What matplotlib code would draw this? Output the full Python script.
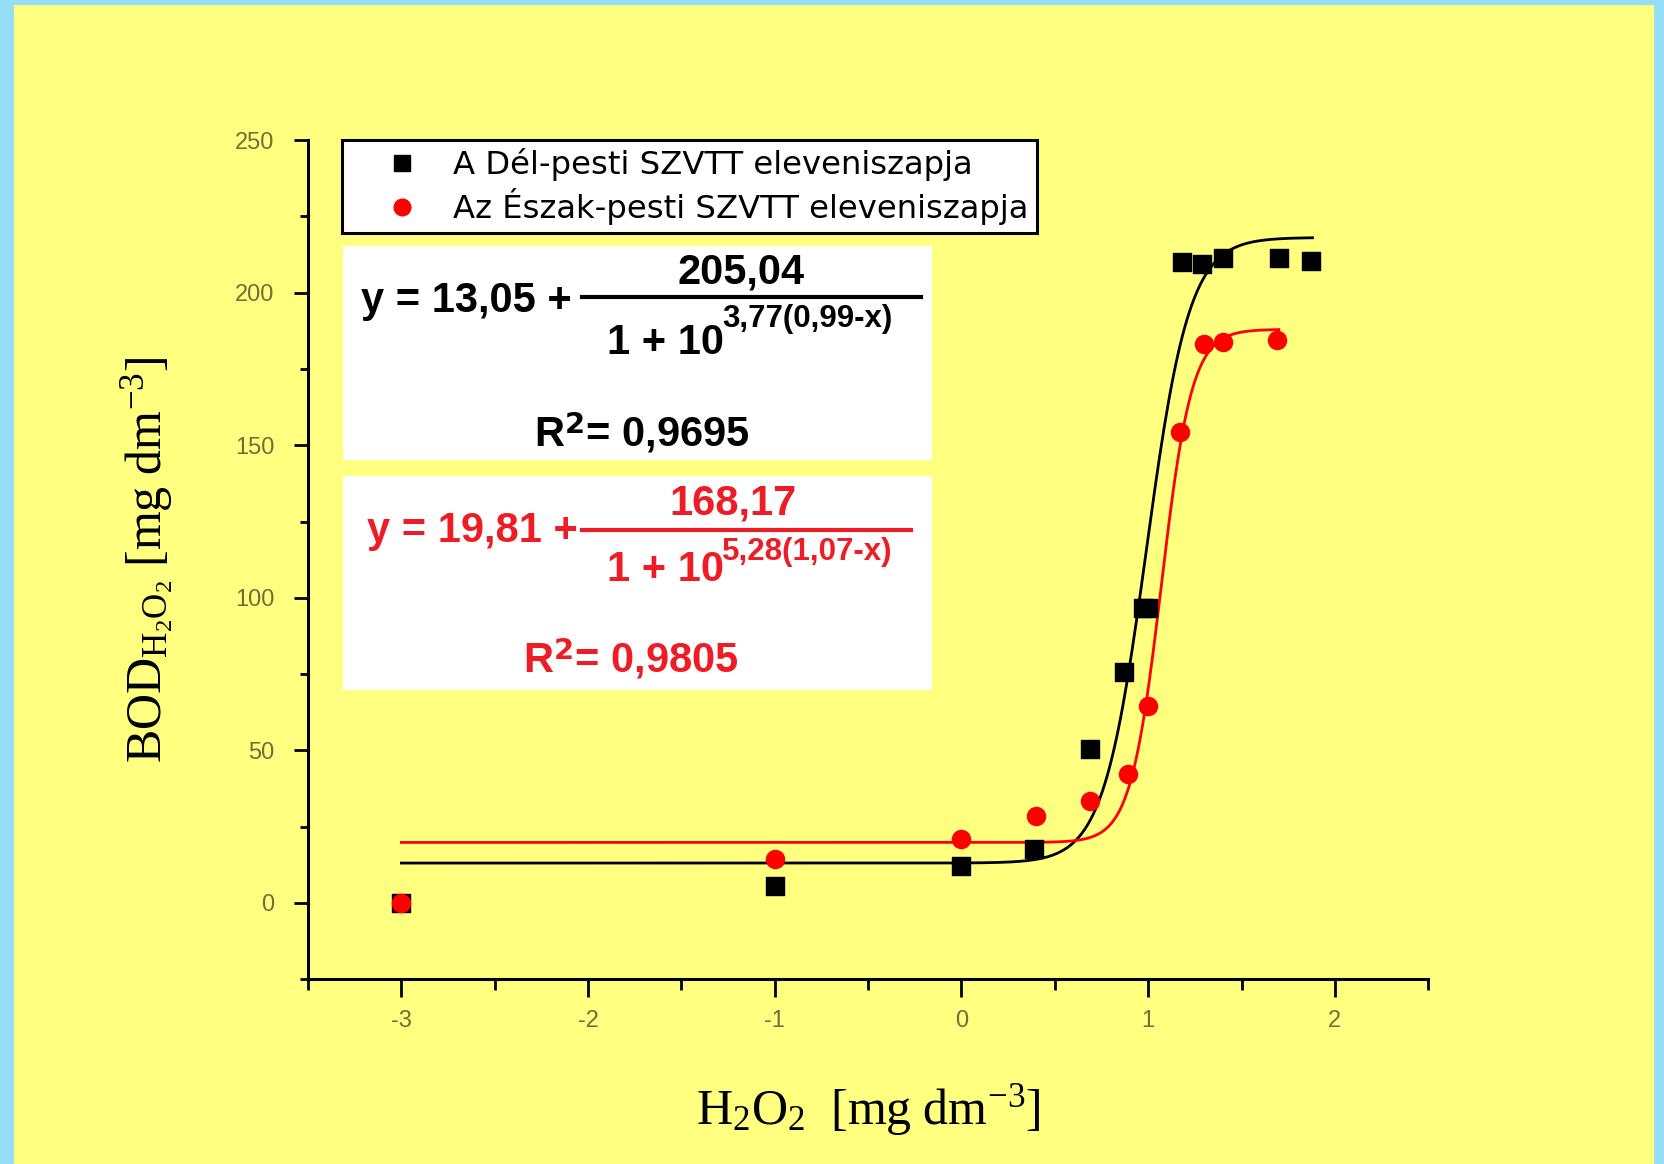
import numpy as np
import matplotlib
matplotlib.use('Agg')
import matplotlib.pyplot as plt
from matplotlib.patches import Rectangle
from matplotlib.lines import Line2D

# log10 of H2O2 concentration vs BOD
del_x = [-3, -1, 0, 0.39, 0.69, 0.87, 0.97, 1.0, 1.18, 1.29, 1.40, 1.70, 1.87]
del_y = [0, 5.6, 12.2, 17.8, 50.6, 75.8, 96.5, 96.5, 210, 209.5, 211.5, 211.5, 210.5]
eszak_x = [-3, -1, 0, 0.40, 0.69, 0.89, 1.0, 1.17, 1.30, 1.40, 1.69]
eszak_y = [0, 14.3, 21, 28.6, 33.5, 42.2, 64.6, 154.3, 183.3, 183.7, 184.4]

# fit params as printed in the chart: base, amplitude, slope, centre
del_fit = (13.05, 205.04, 3.77, 0.99)
eszak_fit = (19.81, 168.17, 5.28, 1.07)

labels = ['A Dél-pesti SZVTT eleveniszapja', 'Az Észak-pesti SZVTT eleveniszapja']
xticks = [-3, -2, -1, 0, 1, 2]
yticks = [0, 50, 100, 150, 200, 250]

YELLOW = '#ffff80'
BLUE = '#94dff7'
RED = '#ff0000'
TXTRED = '#ee1c24'


def logistic(x, p):
    a, b, k, x0 = p
    return a + b / (1 + 10 ** (k * (x0 - x)))


plt.rcParams['mathtext.fontset'] = 'custom'
plt.rcParams['mathtext.rm'] = 'Liberation Serif'
plt.rcParams['mathtext.it'] = 'Liberation Serif:italic'
plt.rcParams['axes.unicode_minus'] = False

fig = plt.figure(figsize=(16.65, 11.64), dpi=100, facecolor=BLUE)
fig.patches.append(Rectangle((14 / 1665, 0), 1640 / 1665, 1159 / 1164,
                             transform=fig.transFigure, facecolor=YELLOW,
                             edgecolor='none', zorder=-10))

ax = fig.add_axes([0.1850, 0.1588, 0.6728, 0.7208])
ax.set_facecolor('none')
ax.set_xlim(-3.5, 2.5)
ax.set_ylim(-25, 250)
for s in ['top', 'right']:
    ax.spines[s].set_visible(False)
for s in ['left', 'bottom']:
    ax.spines[s].set_linewidth(2.2)

ax.set_xticks(xticks)
ax.set_xticks(np.arange(-3.5, 2.51, 0.5), minor=True)
ax.set_yticks(yticks)
ax.set_yticks(np.arange(-25, 251, 25), minor=True)
ax.tick_params(which='major', length=10, width=2, direction='out',
               labelsize=17, labelcolor='#7a6a3a', pad=14)
ax.tick_params(which='minor', length=6, width=2, direction='out')
ax.tick_params(axis='x', which='major', length=13, pad=9)
ax.tick_params(axis='x', which='minor', length=8)
for t in ax.get_xticklabels() + ax.get_yticklabels():
    t.set_fontfamily('Liberation Sans')

xs = np.linspace(-3, 1.88, 400)
ax.plot(xs, logistic(xs, del_fit), color='black', lw=2, zorder=2)
xs2 = np.linspace(-3, 1.70, 400)
ax.plot(xs2, logistic(xs2, eszak_fit), color=RED, lw=2, zorder=2)

ax.scatter(del_x, del_y, marker='s', s=150, color='black', zorder=3)
ax.scatter(eszak_x, eszak_y, marker='o', s=170, color=RED, zorder=4)

ax.set_xlabel(r'$\mathrm{H_2O_2\ \ [mg\ dm^{-3}]}$', fontsize=36, labelpad=36)
ax.set_ylabel(r'$\mathrm{BOD_{H_2O_2}\ [mg\ dm^{-3}]}$', fontsize=36, labelpad=43)

# legend box
handles = [Line2D([], [], marker='s', ls='none', color='black', markersize=12),
           Line2D([], [], marker='o', ls='none', color=RED, markersize=12)]
leg = ax.legend(handles, labels, loc='upper left',
                bbox_to_anchor=(0.2054, 0.8796), bbox_transform=fig.transFigure,
                prop={'family': 'DejaVu Sans', 'size': 23.2},
                frameon=True, fancybox=False, borderpad=0.25, borderaxespad=0,
                labelspacing=0.22, handlelength=3.2, handletextpad=0.0)
leg.get_frame().set_edgecolor('black')
leg.get_frame().set_linewidth(2.2)
leg.get_frame().set_facecolor('white')
leg.get_frame().set_alpha(1)

# equation boxes
for y0, h in [(0.6049, 0.1834), (0.4069, 0.1843)]:
    fig.patches.append(Rectangle((0.206, y0), 0.354, h, transform=fig.transFigure,
                                 facecolor='white', edgecolor='none', zorder=1))

kw = dict(fontfamily='Liberation Sans', fontweight='bold', transform=fig.transFigure)


def equation(fit, r2, color, lx, ly, nx, ny, linex, liney, dy, sy, ry, rx):
    a, b, k, x0 = fit
    fmt = lambda v: f'{v:.2f}'.replace('.', ',')
    fig.text(lx, ly, f'y = {fmt(a)} +', fontsize=30, color=color, va='center', **kw)
    fig.text(nx, ny, fmt(b), fontsize=30, color=color,
             ha='center', va='center', **kw)
    fig.add_artist(Line2D(linex, [liney, liney], color=color, lw=3,
                          transform=fig.transFigure))
    fig.text(0.3648, dy, '1 + 10', fontsize=30, color=color, va='center', **kw)
    fig.text(0.4337, sy, f'{fmt(k)}({fmt(x0)}-x)', fontsize=22.5, color=color,
             va='center', **kw)
    fig.text(rx, ry, r'R$^{\mathbf{2}}$= ' + f'{r2}', fontsize=30, color=color,
             va='center', **kw)


equation(del_fit, '0,9695', 'black', 0.2168, 0.7418, 0.4452, 0.7655,
         [0.3495, 0.5529], 0.7445, 0.7053, 0.7263, 0.6287, 0.3208)
equation(eszak_fit, '0,9805', TXTRED, 0.2207, 0.5438, 0.4401, 0.5675,
         [0.3495, 0.5472], 0.5447, 0.5100, 0.5255, 0.4343, 0.3144)

fig.savefig('out.png', dpi=100, facecolor=BLUE)
